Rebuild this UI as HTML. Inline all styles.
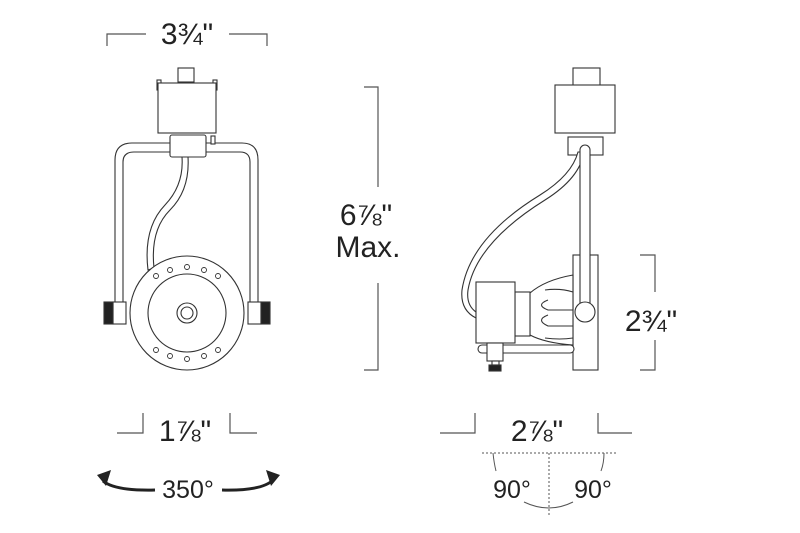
<!DOCTYPE html>
<html><head><meta charset="utf-8"><style>
html,body{margin:0;padding:0;background:#fff}
svg{display:block}
text{font-family:"Liberation Sans",sans-serif;fill:#222}
</style></head><body>
<svg width="800" height="533" viewBox="0 0 800 533" xmlns="http://www.w3.org/2000/svg">
<g fill="none" stroke="#555" stroke-width="1.2">
<polyline points="107,46 107,34 146,34"/>
<polyline points="229,34 267,34 267,46"/>
<polyline points="364,87 378,87 378,187"/>
<polyline points="378,283 378,370 364,370"/>
<polyline points="640,255 655,255 655,292"/>
<polyline points="655,340 655,370 640,370"/>
<polyline points="117,433 143,433 143,413"/>
<polyline points="230,413 230,433 257,433"/>
<polyline points="440,433 475,433 475,413"/>
<polyline points="598,413 598,433 632,433"/>
</g>
<g fill="none" stroke="#555" stroke-width="1">
<line x1="482" y1="453" x2="616" y2="453" stroke-dasharray="2,2"/>
<line x1="549" y1="453" x2="549" y2="517" stroke-dasharray="2,2"/>
<path d="M493,453 Q494,463 496,471"/>
<path d="M604,453 Q604,463 601,471"/>
<path d="M524,502 Q549,514 573,502"/>
</g>
<text x="187" y="44" font-size="30" text-anchor="middle">3¾"</text>
<text x="366" y="225" font-size="30" text-anchor="middle">6⅞"</text>
<text x="368" y="257" font-size="30" text-anchor="middle">Max.</text>
<text x="651" y="331" font-size="30" text-anchor="middle">2¾"</text>
<text x="185" y="441" font-size="30" text-anchor="middle">1⅞"</text>
<text x="537" y="441" font-size="30" text-anchor="middle">2⅞"</text>
<text x="188" y="498" font-size="25" text-anchor="middle">350°</text>
<text x="512" y="498" font-size="25" text-anchor="middle">90°</text>
<text x="593" y="498" font-size="25" text-anchor="middle">90°</text>
<g fill="none" stroke="#222" stroke-width="3">
<path d="M155,490 Q115,491 103,481"/>
<path d="M222,490 Q262,491 273,480"/>
</g>
<path d="M97,475 L111,470 L106,486 Z" fill="#222"/>
<path d="M280,475 L266,470 L271,486 Z" fill="#222"/>

<g fill="#fff" stroke="#333" stroke-width="1.1">
<rect x="178" y="68" width="16" height="14"/>
<rect x="157" y="80" width="4" height="10"/>
<rect x="213" y="80" width="4" height="10"/>
<rect x="158" y="83" width="58" height="50"/>
<path d="M115,305 L115,160 Q115,143 132,143 L242,143 Q258,143 258,160 L258,305 L250,305 L250,162 Q250,152 240,152 L134,152 Q123,152 123,162 L123,305 Z"/>
<rect x="170" y="135" width="36" height="22" rx="2"/>
<rect x="211" y="136" width="4" height="8"/>
<path d="M182,157 Q184,185 165,205 Q143,228 148,270 L154,268 Q150,230 170,210 Q190,190 188,157 Z"/>
<rect x="113" y="302" width="13" height="22"/>
<rect x="248" y="302" width="13" height="22"/>
<rect x="104" y="302" width="9" height="22" fill="#222"/>
<rect x="261" y="302" width="9" height="22" fill="#222"/>
<circle cx="187" cy="313" r="57"/>
<circle cx="187" cy="313" r="39"/>
<circle cx="187" cy="313" r="10"/>
<circle cx="187" cy="313" r="6"/>
<g stroke-width="0.9">
<circle cx="187" cy="267" r="2.5"/><circle cx="170" cy="270" r="2.5"/><circle cx="204" cy="270" r="2.5"/><circle cx="156" cy="276" r="2.5"/><circle cx="218" cy="276" r="2.5"/>
<circle cx="187" cy="359" r="2.5"/><circle cx="170" cy="356" r="2.5"/><circle cx="204" cy="356" r="2.5"/><circle cx="156" cy="350" r="2.5"/><circle cx="218" cy="350" r="2.5"/>
</g>
</g>

<g fill="#fff" stroke="#333" stroke-width="1.1">
<rect x="573" y="68" width="27" height="18"/>
<rect x="555" y="85" width="60" height="48"/>
<rect x="568" y="137" width="35" height="18"/>
<path d="M578,152 Q572,175 540,195 Q470,238 462,290 Q460,310 476,318 L476,312 Q466,305 468,290 Q476,243 545,200 Q580,178 584,152 Z"/>
<rect x="573" y="255" width="25" height="115"/>
<rect x="478" y="345" width="96" height="8" rx="4"/>
<path d="M530,293 Q545,280 573,275 L573,345 Q545,343 530,335 Z"/>
<path d="M548,300 Q535,305 548,310 L573,310 M548,315 Q535,320 548,326 L573,326 M545,290 Q560,288 573,292 M545,338 Q560,340 573,338" fill="none"/>
<rect x="515" y="292" width="15" height="44"/>
<rect x="476" y="282" width="39" height="61"/>
<rect x="487" y="343" width="16" height="18"/>
<rect x="492" y="361" width="7" height="4"/>
<rect x="489" y="365" width="12" height="6" fill="#222"/>
<rect x="580" y="145" width="10" height="165" rx="5"/>
<circle cx="585" cy="312" r="10"/>
</g>
</svg>
</body></html>
